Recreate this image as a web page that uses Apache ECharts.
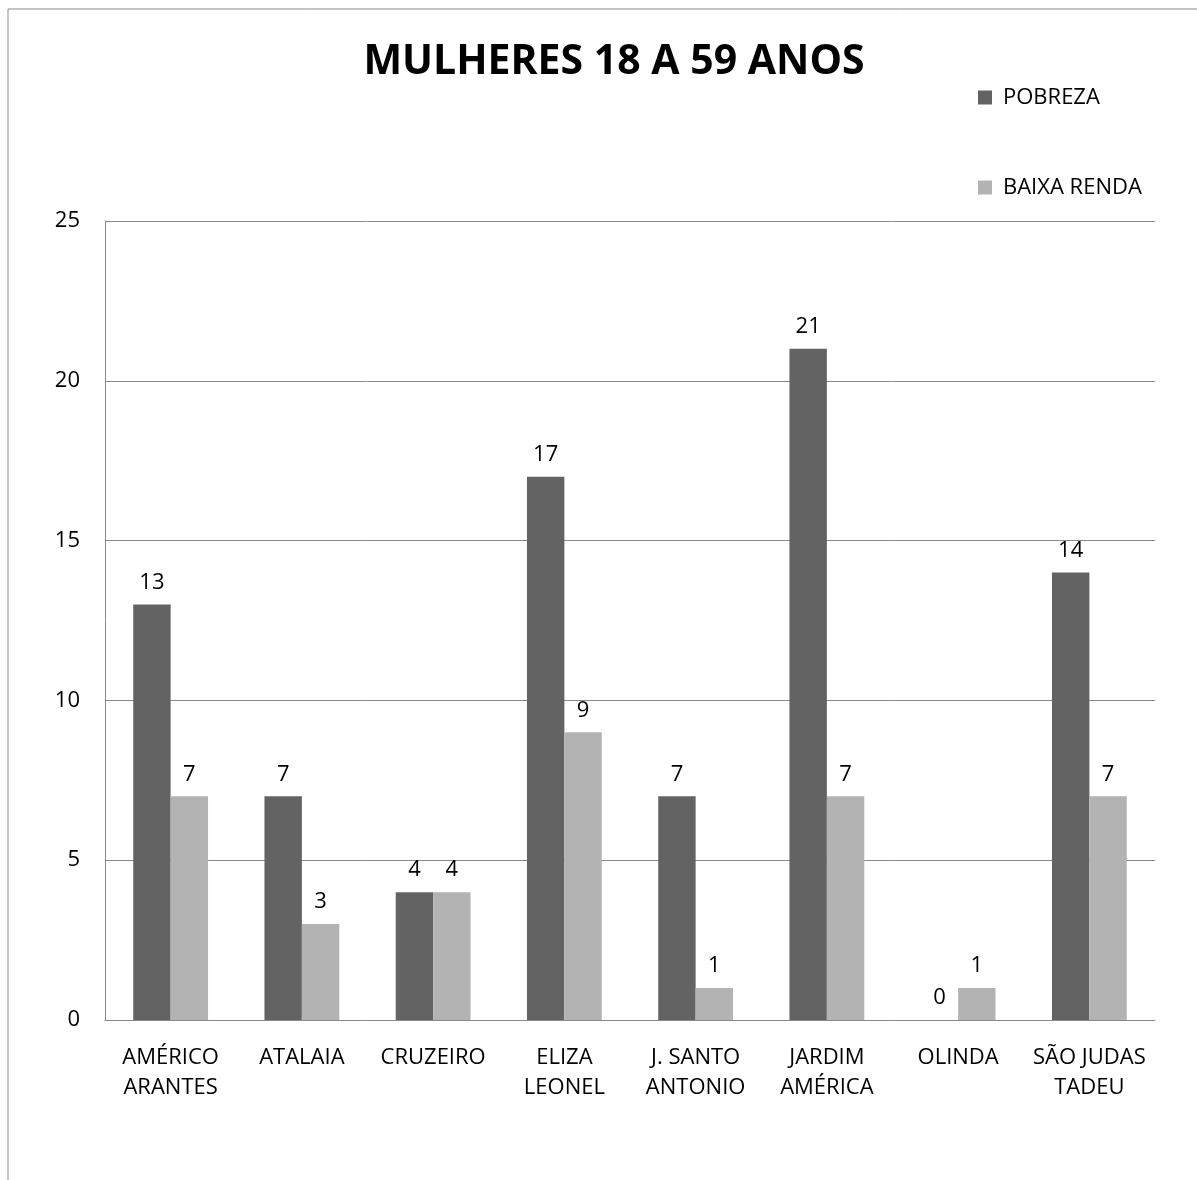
<!DOCTYPE html>
<html>
<head>
<meta charset="utf-8">
<script src="https://cdn.jsdelivr.net/npm/echarts@6/dist/echarts.min.js"></script>
<style>
  html, body { margin: 0; padding: 0; background: #fff; }
  #chart { width: 1197px; height: 1180px; }
</style>
</head>
<body>
<div id="chart"></div>
<script>
// bairros (eixo x)
const categories = ['AMÉRICO\nARANTES', 'ATALAIA', 'CRUZEIRO', 'ELIZA\nLEONEL', 'J. SANTO\nANTONIO', 'JARDIM\nAMÉRICA', 'OLINDA', 'SÃO JUDAS\nTADEU']
// valores das séries
const pobreza = [13, 7, 4, 17, 7, 21, 0, 14]
const baixaRenda = [7, 3, 4, 9, 1, 7, 1, 7]
const seriesNames = ['POBREZA', 'BAIXA RENDA']

const font = '"Open Sans", "Noto Sans", sans-serif'
const lineColor = '#8a8a8a'

const chart = echarts.init(document.getElementById('chart'))

const labelStyle = {
  show: true,
  position: 'top',
  distance: 11,
  color: '#000',
  fontSize: 22,
  fontFamily: font
}

const option = {
  animation: false,
  textStyle: { fontFamily: font },
  title: {
    text: 'MULHERES 18 A 59 ANOS',
    left: 609,
    textAlign: 'center',
    top: 37,
    textStyle: {
      fontSize: 41,
      fontWeight: 'bold',
      color: '#000',
      fontFamily: font
    }
  },
  legend: {
    orient: 'vertical',
    left: 973,
    top: 81,
    itemWidth: 14,
    itemHeight: 14,
    itemGap: 67,
    icon: 'rect',
    data: seriesNames,
    textStyle: { fontSize: 22, color: '#000', lineHeight: 23, padding: [0, 0, 0, 6], fontFamily: font }
  },
  graphic: [{
    type: 'rect',
    shape: { x: 8, y: 9, width: 1250, height: 1250 },
    style: { fill: 'none', stroke: lineColor, lineWidth: 1 },
    silent: true
  }],
  grid: { left: 105, right: 42, top: 221, bottom: 160 },
  xAxis: {
    type: 'category',
    data: categories,
    axisLine: { lineStyle: { color: lineColor } },
    axisTick: { show: false },
    axisLabel: {
      interval: 0,
      margin: 23,
      color: '#000',
      fontSize: 22,
      lineHeight: 30,
      fontFamily: font
    }
  },
  yAxis: {
    type: 'value',
    min: 0,
    max: 25,
    interval: 5,
    axisLine: { show: true, lineStyle: { color: lineColor } },
    axisTick: { show: false },
    splitLine: { lineStyle: { color: lineColor } },
    axisLabel: { margin: 25, color: '#000', fontSize: 22, fontFamily: font }
  },
  series: [
    {
      name: seriesNames[0],
      type: 'bar',
      data: pobreza,
      barGap: '0%',
      barCategoryGap: '43%',
      itemStyle: { color: '#636363' },
      label: labelStyle
    },
    {
      name: seriesNames[1],
      type: 'bar',
      data: baixaRenda,
      itemStyle: { color: '#b3b3b3' },
      label: labelStyle
    }
  ]
}

chart.setOption(option)
</script>
</body>
</html>
